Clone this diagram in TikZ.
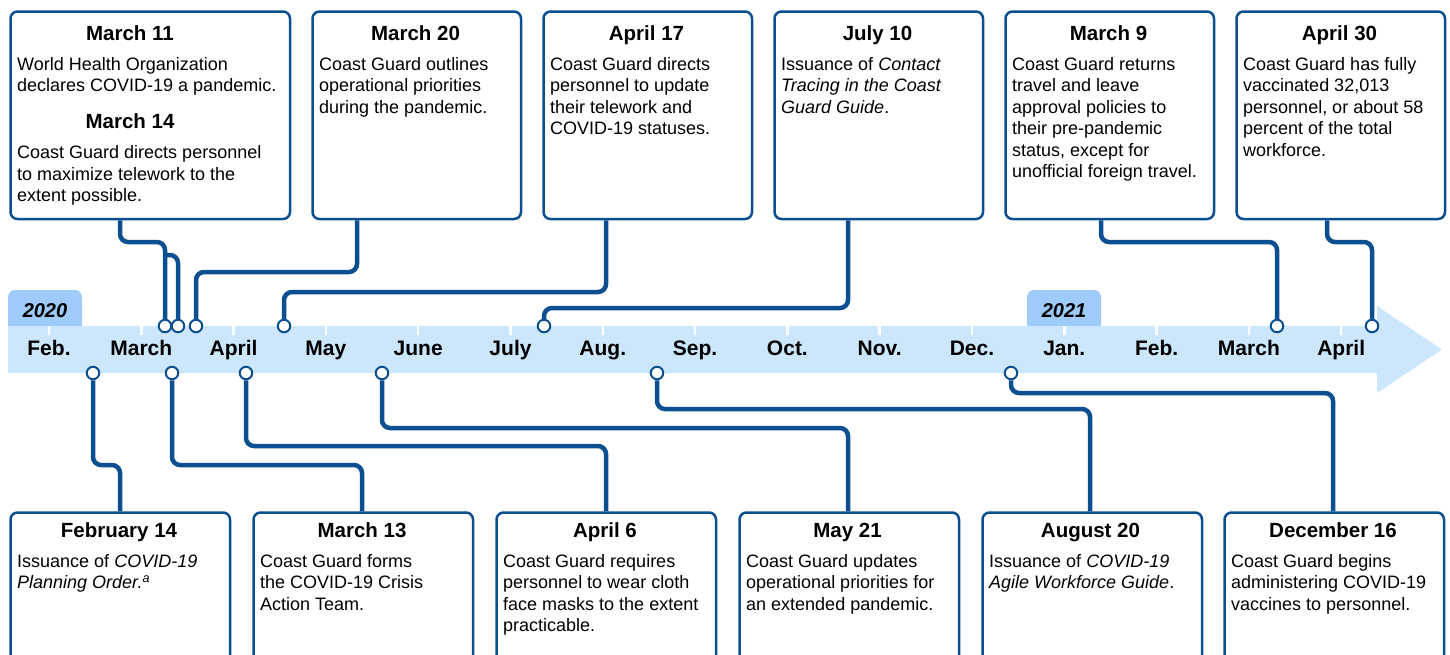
\documentclass[tikz,border=0pt]{standalone}
\usepackage{fontspec}
\setmainfont{Liberation Sans}
\usepackage{tikz}
\definecolor{gaoline}{HTML}{0B4F91}
\definecolor{gaoband}{HTML}{CCE6FB}
\definecolor{gaotab}{HTML}{9ECBFB}
\newcommand{\bodyfont}{\fontsize{18}{21.5}\selectfont}
\newcommand{\headfont}{\fontsize{20.5}{24}\selectfont\bfseries}

\begin{document}
\begin{tikzpicture}[x=1pt,y=-1pt,
  evbox/.style={draw=gaoline,line width=2.5pt,rounded corners=7pt,anchor=north west,inner sep=0pt,fill=white},
  head/.style={anchor=base,inner sep=0pt,font=\headfont},
  body/.style={anchor=north west,inner sep=0pt,align=left,font=\bodyfont},
  conn/.style={draw=gaoline,line width=4.5pt,rounded corners=8pt},
  dot/.style={circle,draw=gaoline,fill=white,line width=2pt,minimum size=12.5pt,inner sep=0pt},
  month/.style={anchor=base,inner sep=0pt,font=\fontsize{21}{24}\selectfont\bfseries},
  year/.style={anchor=base,inner sep=0pt,font=\fontsize{20}{24}\selectfont\bfseries\itshape}]
\useasboundingbox (0,0) rectangle (1450,654);
\clip (0,0) rectangle (1450,654);

% timeline band
\fill[gaotab,rounded corners=7pt] (8,290) rectangle (82,340);
\fill[gaotab,rounded corners=7pt] (1027,290) rectangle (1101,340);
\fill[gaoband] (8,326) -- (1377,326) -- (1377,306) -- (1442,349.5)
  -- (1377,393) -- (1377,373) -- (8,373) -- cycle;
\foreach \k in {0,...,14}
  \draw[white,line width=2.5pt] ({49+92.3*\k},326) -- ({49+92.3*\k},335);
\foreach \m [count=\k from 0] in {Feb.,March,April,May,June,July,Aug.,Sep.,Oct.,Nov.,Dec.,Jan.,Feb.,March,April}
  \node[month] (mon\k) at ({49+92.3*\k},355) {\m};
\node[year] (yr2020) at (45,317) {2020};
\node[year] (yr2021) at (1064,317) {2021};

% boxes above
\node[evbox,minimum width=279.5pt,minimum height=207.5pt] (mar11) at (9.25,10.25) {};
\node[evbox,minimum width=208.5pt,minimum height=207.5pt] (mar20) at (311.25,10.25) {};
\node[evbox,minimum width=208.5pt,minimum height=207.5pt] (apr17) at (542.25,10.25) {};
\node[evbox,minimum width=208.5pt,minimum height=207.5pt] (jul10) at (773.25,10.25) {};
\node[evbox,minimum width=208.5pt,minimum height=207.5pt] (mar9) at (1004.25,10.25) {};
\node[evbox,minimum width=208.5pt,minimum height=207.5pt] (apr30) at (1235.25,10.25) {};

\node[head] (mar11h) at (130,40) {March 11};
\node[body] (mar11b) at (17,55) {\strut World Health Organization\\declares COVID-19 a pandemic.};
\node[head] (mar14h) at (130,128) {March 14};
\node[body] (mar14b) at (17,143.5) {\strut Coast Guard directs personnel\\to maximize telework to the\\extent possible.};
\node[head] (mar20h) at (415.5,40) {March 20};
\node[body] (mar20b) at (319,55) {\strut Coast Guard outlines\\operational priorities\\during the pandemic.};
\node[head] (apr17h) at (646.5,40) {April 17};
\node[body] (apr17b) at (550,55) {\strut Coast Guard directs\\personnel to update\\their telework and\\COVID-19 statuses.};
\node[head] (jul10h) at (877.5,40) {July 10};
\node[body] (jul10b) at (781,55) {\strut Issuance of \textit{Contact}\\\textit{Tracing in the Coast}\\\textit{Guard Guide}.};
\node[head] (mar9h) at (1108.5,40) {March 9};
\node[body] (mar9b) at (1012,55) {\strut Coast Guard returns\\travel and leave\\approval policies to\\their pre-pandemic\\status, except for\\unofficial foreign travel.};
\node[head] (apr30h) at (1339.5,40) {April 30};
\node[body] (apr30b) at (1243,55) {\strut Coast Guard has fully\\vaccinated 32,013\\personnel, or about 58\\percent of the total\\workforce.};

% boxes below
\node[evbox,minimum width=219.5pt,minimum height=170pt] (feb14) at (9.25,511.25) {};
\node[evbox,minimum width=219.5pt,minimum height=170pt] (mar13) at (252.25,511.25) {};
\node[evbox,minimum width=219.5pt,minimum height=170pt] (apr6) at (495.25,511.25) {};
\node[evbox,minimum width=219.5pt,minimum height=170pt] (may21) at (738.25,511.25) {};
\node[evbox,minimum width=219.5pt,minimum height=170pt] (aug20) at (981.25,511.25) {};
\node[evbox,minimum width=219.5pt,minimum height=170pt] (dec16) at (1223.25,511.25) {};

\node[head] (feb14h) at (119,537) {February 14};
\node[body] (feb14b) at (17,552) {\strut Issuance of \textit{COVID-19}\\\textit{Planning Order.}\textsuperscript{\textit{a}}};
\node[head] (mar13h) at (362,537) {March 13};
\node[body] (mar13b) at (260,552) {\strut Coast Guard forms\\the COVID-19 Crisis\\Action Team.};
\node[head] (apr6h) at (605,537) {April 6};
\node[body] (apr6b) at (503,552) {\strut Coast Guard requires\\personnel to wear cloth\\face masks to the extent\\practicable.};
\node[head] (may21h) at (847.5,537) {May 21};
\node[body] (may21b) at (746,552) {\strut Coast Guard updates\\operational priorities for\\an extended pandemic.};
\node[head] (aug20h) at (1090.5,537) {August 20};
\node[body] (aug20b) at (989,552) {\strut Issuance of \textit{COVID-19}\\\textit{Agile Workforce Guide}.};
\node[head] (dec16h) at (1333,537) {December 16};
\node[body] (dec16b) at (1231,552) {\strut Coast Guard begins\\administering COVID-19\\vaccines to personnel.};

% circles on the band
\node[dot] (tp1) at (165,326) {};
\node[dot] (tp2) at (178,326) {};
\node[dot] (tp3) at (196,326) {};
\node[dot] (tp4) at (284,326) {};
\node[dot] (tp5) at (544,326) {};
\node[dot] (tp6) at (1277,326) {};
\node[dot] (tp7) at (1372,326) {};
\node[dot] (bt1) at (93,373) {};
\node[dot] (bt2) at (172,373) {};
\node[dot] (bt3) at (246,373) {};
\node[dot] (bt4) at (382,373) {};
\node[dot] (bt5) at (657,373) {};
\node[dot] (bt6) at (1011,373) {};

% connectors
\draw[conn] (mar11.south -| 120,0) |- (tp1 |- 0,242) -- (tp1.north);
\draw[conn] (tp1 |- 0,255) -| (tp2.north);
\draw[conn] (mar20.south -| 357,0) |- (tp3 |- 0,272) -- (tp3.north);
\draw[conn] (apr17.south -| 606,0) |- (tp4 |- 0,292) -- (tp4.north);
\draw[conn] (jul10.south -| 848,0) |- (tp5 |- 0,308) -- (tp5.north);
\draw[conn] (mar9.south -| 1101,0) |- (tp6 |- 0,242) -- (tp6.north);
\draw[conn] (apr30.south -| 1327,0) |- (tp7 |- 0,242) -- (tp7.north);
\draw[conn] (bt1.south) |- (120,465) -- (feb14.north -| 120,0);
\draw[conn] (bt2.south) |- (362,465) -- (mar13.north -| 362,0);
\draw[conn] (bt3.south) |- (606,446) -- (apr6.north -| 606,0);
\draw[conn] (bt4.south) |- (848,428) -- (may21.north -| 848,0);
\draw[conn] (bt5.south) |- (1090,409) -- (aug20.north -| 1090,0);
\draw[conn] (bt6.south) |- (1333,393) -- (dec16.north -| 1333,0);
\end{tikzpicture}
\end{document}
